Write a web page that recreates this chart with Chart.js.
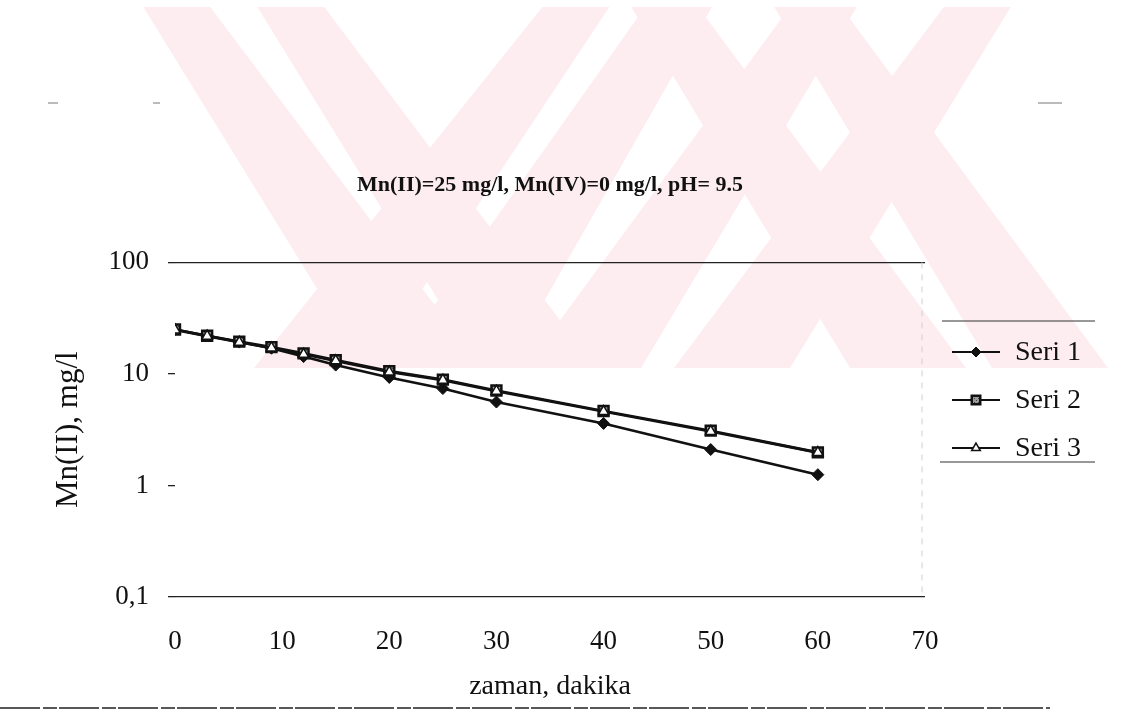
<!DOCTYPE html>
<html>
<head>
<meta charset="utf-8">
<script src="https://cdn.jsdelivr.net/npm/chart.js@4.4.1/dist/chart.umd.min.js"></script>
<style>
  html, body { margin: 0; padding: 0; background: #fff; }
  #wrap { width: 1144px; height: 715px; }
</style>
</head>
<body>
<div id="wrap"><canvas id="mnChart" width="1144" height="715"></canvas></div>
<script>
// general variables
let serif = "'Liberation Serif', 'Times New Roman', serif";
let ink = "#111";

// data (zaman in dakika, Mn(II) in mg/l)
let times = [0, 3, 6, 9, 12, 15, 20, 25, 30, 40, 50, 60];
let seri1 = [25, 22, 19.3, 17, 14.3, 12.0, 9.3, 7.4, 5.6, 3.6, 2.1, 1.25];
let seri2 = [25, 22, 19.5, 17.4, 15.3, 13.3, 10.6, 8.9, 7.1, 4.65, 3.1, 1.98];
let seri3 = [24.8, 21.8, 19.2, 17.1, 15.0, 13.1, 10.4, 8.8, 7.0, 4.6, 3.05, 1.97];
let yTicks = [0.1, 1, 10, 100];
let xTicks = [0, 10, 20, 30, 40, 50, 60, 70];
let seriesNames = ["Seri 1", "Seri 2", "Seri 3"];

function points(values) {
  return times.map((t, i) => ({ x: t, y: values[i] }));
}

// grey speckled fill for the Seri 2 squares
let speckle = (function () {
  let c = document.createElement("canvas");
  c.width = 4; c.height = 4;
  let g = c.getContext("2d");
  g.fillStyle = "#9a9a9a";
  g.fillRect(0, 0, 4, 4);
  g.fillStyle = "#444";
  g.fillRect(0, 0, 1, 1);
  g.fillRect(2, 2, 1, 1);
  return c.getContext("2d").createPattern(c, "repeat");
})();

// ! pale pink watermark behind the chart
let watermark = {
  id: "watermark",
  beforeDraw(chart) {
    let ctx = chart.ctx;
    // [centre at y=0, centre at y=368] for each stripe
    let stripes = [
      [172, 424], [286, 538], [660, 908], [803, 1050],
      [581, 312], [683, 448], [828, 583], [982, 732],
    ];
    ctx.save();
    ctx.beginPath();
    ctx.rect(0, 7, 1144, 361);
    ctx.clip();
    ctx.fillStyle = "#fdedf0";
    stripes.forEach(([a, b]) => {
      ctx.beginPath();
      ctx.moveTo(a - 33, 0);
      ctx.lineTo(a + 33, 0);
      ctx.lineTo(b + 58, 368);
      ctx.lineTo(b - 58, 368);
      ctx.closePath();
      ctx.fill();
    });
    ctx.restore();
  },
};

// ! legend with line + marker like the original, and the frame bits
let sideLegend = {
  id: "sideLegend",
  afterDraw(chart) {
    let ctx = chart.ctx;
    let area = chart.chartArea;
    ctx.save();

    // faint right border of plot area
    ctx.strokeStyle = "#cfcfcf";
    ctx.lineWidth = 1;
    ctx.setLineDash([6, 6]);
    ctx.beginPath();
    ctx.moveTo(area.right - 3, area.top);
    ctx.lineTo(area.right - 3, area.bottom);
    ctx.stroke();
    ctx.setLineDash([]);

    // legend rules
    ctx.strokeStyle = "#333";
    ctx.lineWidth = 1.2;
    ctx.beginPath();
    ctx.moveTo(942, 321); ctx.lineTo(1095, 321);
    ctx.moveTo(940, 462); ctx.lineTo(1095, 462);
    ctx.stroke();

    chart.data.datasets.forEach((ds, i) => {
      let y = 352 + i * 48;
      ctx.strokeStyle = ds.borderColor;
      ctx.lineWidth = 2;
      ctx.beginPath();
      ctx.moveTo(952, y);
      ctx.lineTo(1000, y);
      ctx.stroke();
      ctx.fillStyle = ds.pointBackgroundColor;
      ctx.strokeStyle = ds.pointBorderColor;
      ctx.lineWidth = ds.pointBorderWidth;
      Chart.helpers.drawPoint(ctx, {
        pointStyle: ds.pointStyle,
        radius: ds.pointRadius - 1,
        borderWidth: ds.pointBorderWidth,
        rotation: 0,
      }, 976, y);
      ctx.fillStyle = ink;
      ctx.font = "28px " + serif;
      ctx.textAlign = "left";
      ctx.textBaseline = "middle";
      ctx.fillText(ds.label, 1015, y + 1);
    });

    // scan leftovers: page edge at the bottom, small marks at the top
    ctx.strokeStyle = "#222";
    ctx.lineWidth = 1.5;
    ctx.setLineDash([40, 3, 14, 2]);
    ctx.beginPath();
    ctx.moveTo(0, 708);
    ctx.lineTo(1050, 708);
    ctx.stroke();
    ctx.setLineDash([]);
    ctx.strokeStyle = "#777";
    ctx.lineWidth = 1;
    ctx.beginPath();
    ctx.moveTo(48, 103); ctx.lineTo(58, 103);
    ctx.moveTo(153, 103); ctx.lineTo(160, 103);
    ctx.moveTo(1038, 103); ctx.lineTo(1062, 103);
    ctx.stroke();
    ctx.restore();
  },
};

let mnChart = document.querySelector("#mnChart");
new Chart(mnChart, {
  type: "line",
  plugins: [watermark, sideLegend],

  options: {
    responsive: false,
    animation: false,
    layout: {
      padding: { left: 0, right: 219, top: 0, bottom: 0 },
    },

    plugins: {
      legend: { display: false },
      tooltip: { enabled: false },
      title: {
        display: true,
        text: "Mn(II)=25 mg/l, Mn(IV)=0 mg/l, pH= 9.5",
        fullSize: false,
        color: ink,
        font: { family: serif, size: 22, weight: "bold" },
        padding: { top: 172, bottom: 64 },
      },
    },

    scales: {
      x: {
        type: "linear",
        min: 0,
        max: 70,
        afterBuildTicks: (s) => { s.ticks = xTicks.map((v) => ({ value: v })); },
        afterFit: (s) => { s.height = 118; },
        grid: { display: false, drawTicks: false },
        border: { display: false },
        ticks: {
          color: ink,
          font: { family: serif, size: 27 },
          padding: 29,
          maxRotation: 0,
        },
        title: {
          display: true,
          text: "zaman, dakika",
          color: ink,
          font: { family: serif, size: 28 },
          padding: { top: 0, bottom: 12 },
        },
      },

      y: {
        type: "logarithmic",
        min: 0.1,
        max: 100,
        afterBuildTicks: (s) => { s.ticks = yTicks.map((v) => ({ value: v })); },
        afterFit: (s) => { s.width = 175; },
        border: { display: false },
        grid: {
          color: (c) => (c.tick && (c.tick.value === 100 || c.tick.value === 0.1) ? "#222" : "rgba(0,0,0,0)"),
          lineWidth: 1.3,
          drawTicks: true,
          tickLength: 7,
          tickColor: "#222",
        },
        ticks: {
          color: ink,
          font: { family: serif, size: 27 },
          padding: 19,
          callback: (v) => String(v).replace(".", ","),
        },
        title: {
          display: true,
          text: "Mn(II), mg/l",
          color: ink,
          font: { family: serif, size: 31 },
          padding: { top: 50, bottom: 0 },
        },
      },
    },
  },

  data: {
    datasets: [
      {
        label: seriesNames[0],
        data: points(seri1),
        borderColor: ink,
        borderWidth: 2.6,
        pointStyle: "rectRot",
        pointRadius: 6,
        pointBackgroundColor: ink,
        pointBorderColor: ink,
        pointBorderWidth: 1,
        order: 3,
      },
      {
        label: seriesNames[1],
        data: points(seri2),
        borderColor: ink,
        borderWidth: 2.6,
        pointStyle: "rect",
        pointRadius: 7,
        pointBackgroundColor: speckle,
        pointBorderColor: ink,
        pointBorderWidth: 2.5,
        order: 2,
      },
      {
        label: seriesNames[2],
        data: points(seri3),
        borderColor: ink,
        borderWidth: 2.6,
        pointStyle: "triangle",
        pointRadius: 6,
        pointBackgroundColor: "#fff",
        pointBorderColor: ink,
        pointBorderWidth: 1.5,
        order: 1,
      },
    ],
  },
});
</script>
</body>
</html>
